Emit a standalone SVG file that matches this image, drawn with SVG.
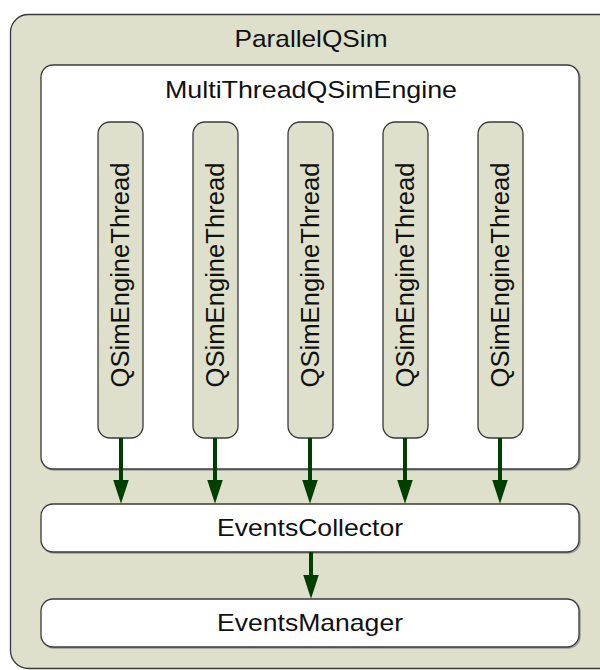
<svg xmlns="http://www.w3.org/2000/svg" width="600" height="670" viewBox="0 0 600 670">
  <style>
    .box { stroke: #3a3a3a; stroke-width: 1.3; }
    .beige { fill: #dee0cb; }
    .white { fill: #ffffff; }
    .shadow { fill: none; stroke: #9a9a9a; stroke-width: 1.5; }
    .lbl { font-family: "Liberation Sans", Arial, sans-serif; font-size: 24px; fill: #111; text-anchor: middle; }
    .vlbl { font-family: "Liberation Sans", Arial, sans-serif; font-size: 23.5px; fill: #111; text-anchor: middle; }
    .flow { stroke: #003f00; stroke-width: 4; fill: none; marker-end: url(#head); }
  </style>
  <defs>
    <marker id="head" markerUnits="userSpaceOnUse" markerWidth="24" markerHeight="16" viewBox="0 0 23 15" refX="5" refY="7.5" orient="auto">
      <path d="M0,0 L23,7.5 L0,15 Z" fill="#003f00"/>
    </marker>
  </defs>

  <!-- Outer container -->
  <g id="parallel-qsim">
    <rect class="box beige" x="10.5" y="14.5" width="620" height="654" rx="18"/>
    <text class="lbl" x="311" y="47" textLength="153" lengthAdjust="spacingAndGlyphs">ParallelQSim</text>
  </g>

  <!-- Engine container -->
  <g id="multi-thread-engine">
    <rect class="shadow" x="42" y="66" width="538" height="404" rx="12"/>
    <rect class="box white" x="41" y="65" width="538" height="404" rx="12"/>
    <text class="lbl" x="311" y="98" textLength="292" lengthAdjust="spacingAndGlyphs">MultiThreadQSimEngine</text>
  </g>

  <!-- Worker threads -->
  <g id="thread-1">
    <rect class="box beige" x="98" y="122" width="45" height="316" rx="12"/>
    <text class="vlbl" transform="translate(129,275) scale(1.1,1) rotate(-90)" textLength="225" lengthAdjust="spacingAndGlyphs">QSimEngineThread</text>
  </g>
  <g id="thread-2">
    <rect class="box beige" x="193" y="122" width="45" height="316" rx="12"/>
    <text class="vlbl" transform="translate(224,275) scale(1.1,1) rotate(-90)" textLength="225" lengthAdjust="spacingAndGlyphs">QSimEngineThread</text>
  </g>
  <g id="thread-3">
    <rect class="box beige" x="288" y="122" width="45" height="316" rx="12"/>
    <text class="vlbl" transform="translate(319,275) scale(1.1,1) rotate(-90)" textLength="225" lengthAdjust="spacingAndGlyphs">QSimEngineThread</text>
  </g>
  <g id="thread-4">
    <rect class="box beige" x="383" y="122" width="45" height="316" rx="12"/>
    <text class="vlbl" transform="translate(414,275) scale(1.1,1) rotate(-90)" textLength="225" lengthAdjust="spacingAndGlyphs">QSimEngineThread</text>
  </g>
  <g id="thread-5">
    <rect class="box beige" x="478" y="122" width="45" height="316" rx="12"/>
    <text class="vlbl" transform="translate(509,275) scale(1.1,1) rotate(-90)" textLength="225" lengthAdjust="spacingAndGlyphs">QSimEngineThread</text>
  </g>

  <!-- Collector and manager -->
  <g id="events-collector">
    <rect class="shadow" x="42" y="505" width="538" height="48" rx="12"/>
    <rect class="box white" x="41" y="504" width="538" height="48" rx="12"/>
    <text class="lbl" x="310" y="536" textLength="186" lengthAdjust="spacingAndGlyphs">EventsCollector</text>
  </g>
  <g id="events-manager">
    <rect class="shadow" x="42" y="600" width="538" height="48" rx="12"/>
    <rect class="box white" x="41" y="599" width="538" height="48" rx="12"/>
    <text class="lbl" x="310" y="631" textLength="186" lengthAdjust="spacingAndGlyphs">EventsManager</text>
  </g>

  <!-- Event flow -->
  <g id="connectors">
    <line class="flow" x1="121" y1="438" x2="121" y2="485"/>
    <line class="flow" x1="215" y1="438" x2="215" y2="485"/>
    <line class="flow" x1="310" y1="438" x2="310" y2="485"/>
    <line class="flow" x1="405" y1="438" x2="405" y2="485"/>
    <line class="flow" x1="500" y1="438" x2="500" y2="485"/>
    <line class="flow" x1="311" y1="552" x2="311" y2="580"/>
  </g>
</svg>
